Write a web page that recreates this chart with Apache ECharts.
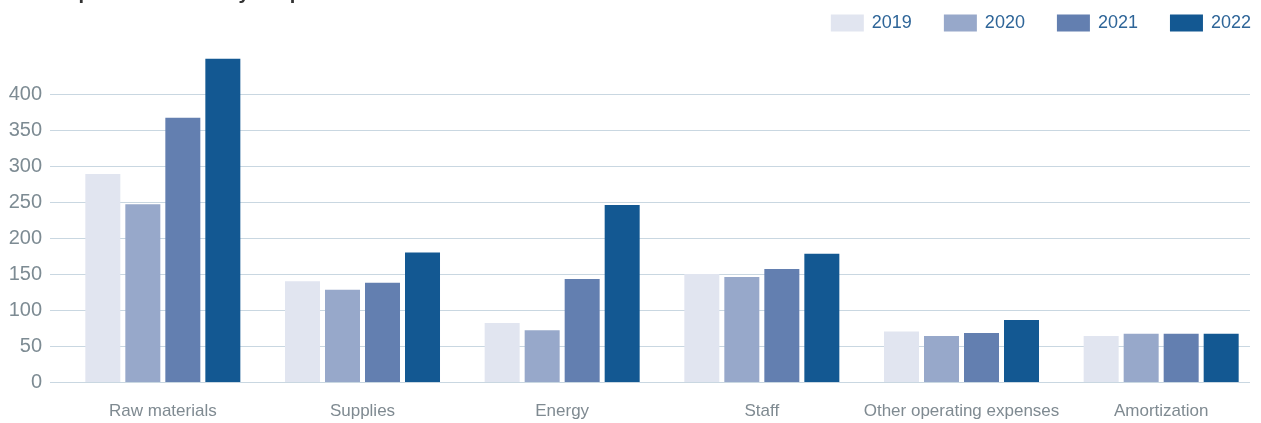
<!DOCTYPE html>
<html>
<head>
<meta charset="utf-8">
<script src="https://cdn.jsdelivr.net/npm/echarts@6/dist/echarts.min.js"></script>
<style>
  html, body { margin: 0; padding: 0; background: #ffffff; }
  #chart { width: 1261px; height: 423px; }
</style>
</head>
<body>
<div id="chart"></div>
<script>
// Cost categories and yearly values
const categories = ['Raw materials', 'Supplies', 'Energy', 'Staff', 'Other operating expenses', 'Amortization'];
const years = ['2019', '2020', '2021', '2022'];
const values2019 = [289, 140, 82, 150, 70, 64];
const values2020 = [247, 128, 72, 146, 64, 67];
const values2021 = [367, 138, 143, 157, 68, 67];
const values2022 = [449, 180, 246, 178, 86, 67];
const yTicks = [0, 50, 100, 150, 200, 250, 300, 350, 400];

const seriesValues = [values2019, values2020, values2021, values2022];
const colors = ['#e1e5f0', '#97a8ca', '#637fb0', '#135892'];

const FONT = '"Liberation Sans", Arial, sans-serif';
const gridColor = '#c9d7e1';

const chart = echarts.init(document.getElementById('chart'), null, { renderer: 'canvas' });

chart.setOption({
  animation: false,
  backgroundColor: '#ffffff',
  textStyle: { fontFamily: FONT },
  title: {
    text: 'Development of costs by chapter',
    left: 8,
    top: -22,
    textStyle: { fontFamily: FONT, fontSize: 20, fontWeight: 'bold', color: '#333333' }
  },
  legend: {
    data: years,
    right: 5,
    top: 9,
    itemWidth: 33,
    itemHeight: 17,
    itemGap: 32,
    icon: 'rect',
    textStyle: { fontFamily: FONT, fontSize: 18, color: '#2e6598', padding: [0, 0, 0, 3] }
  },
  grid: [
    // value axis and gridlines
    { left: 50, width: 1200, top: 94, bottom: 41, containLabel: false },
    // bars and category labels
    { left: 63, width: 1200, top: 94, bottom: 41, containLabel: false }
  ],
  xAxis: [
    { gridIndex: 0, type: 'category', data: categories, show: false },
    {
      gridIndex: 1,
      type: 'category',
      data: categories,
      axisLine: { show: false },
      axisTick: { show: false },
      axisLabel: {
        margin: 21,
        fontFamily: FONT,
        fontSize: 17,
        color: '#7f8a91',
        interval: 0
      }
    }
  ],
  yAxis: [
    {
      gridIndex: 0,
      type: 'value',
      min: yTicks[0],
      max: yTicks[yTicks.length - 1],
      interval: yTicks[1] - yTicks[0],
      axisLine: { show: false },
      axisTick: { show: false },
      axisLabel: { margin: 8, fontFamily: FONT, fontSize: 20, color: '#7d8b93' },
      splitLine: { show: true, lineStyle: { color: gridColor, width: 1 } }
    },
    {
      gridIndex: 1,
      type: 'value',
      min: yTicks[0],
      max: yTicks[yTicks.length - 1],
      interval: yTicks[1] - yTicks[0],
      show: false,
      splitLine: { show: false }
    }
  ],
  series: years.map((y, i) => ({
    name: y,
    type: 'bar',
    xAxisIndex: 1,
    yAxisIndex: 1,
    data: seriesValues[i],
    barWidth: 35,
    barGap: '14.3%',
    clip: false,
    itemStyle: { color: colors[i] },
    emphasis: { disabled: true }
  }))
});
</script>
</body>
</html>
